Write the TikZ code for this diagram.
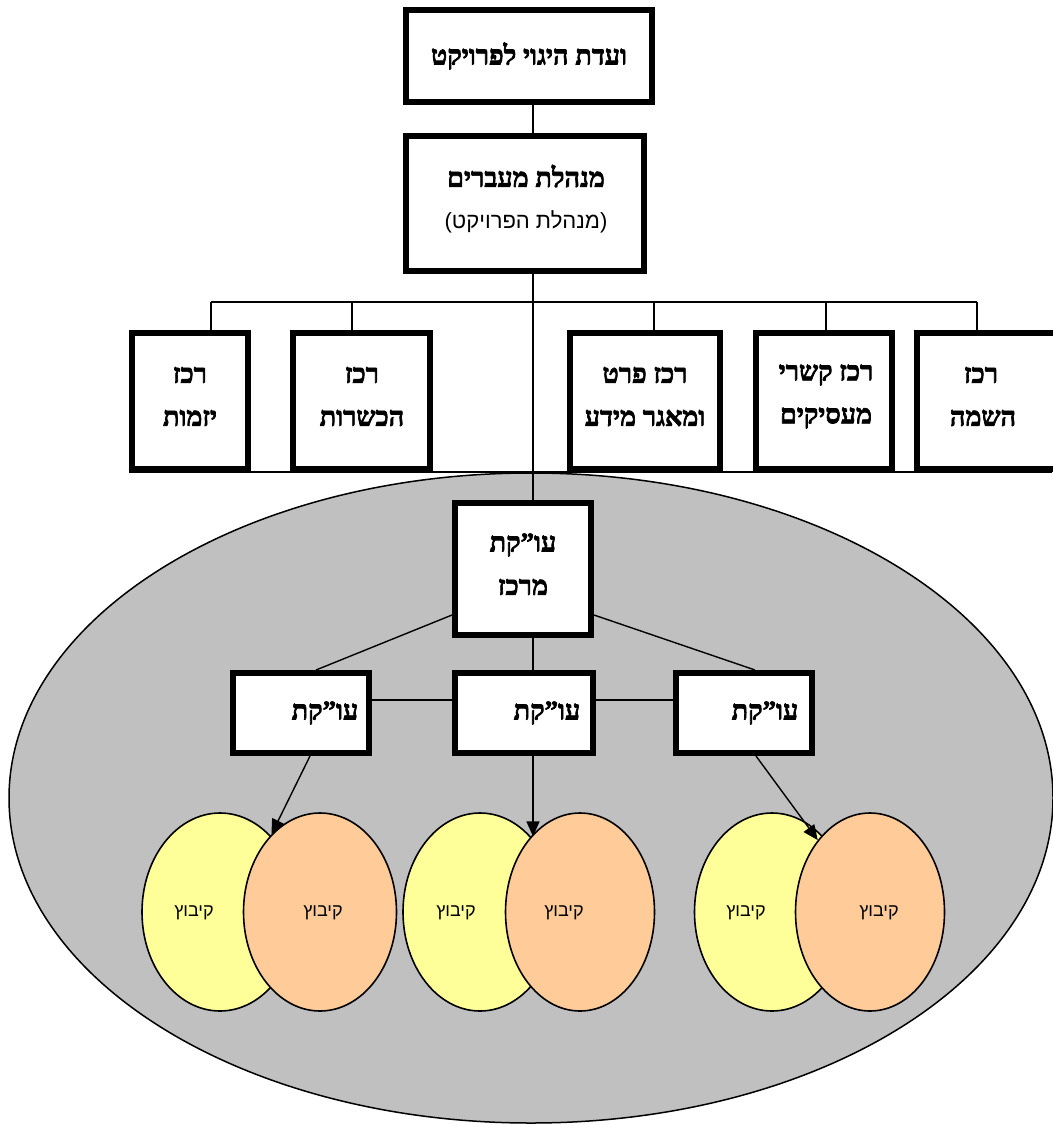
\documentclass[tikz,border=0pt]{standalone}
\usepackage{fontspec}
\setmainfont{Liberation Sans}
\newfontfamily\hebb[Script=Hebrew, BoldFont={Liberation Serif Bold}, BoldFeatures={FakeBold=2.5}]{Liberation Serif}
\newfontfamily\hebs[Script=Hebrew]{Liberation Sans}
\TeXXeTstate=1
\usetikzlibrary{arrows.meta,shapes.geometric}
\definecolor{ellgray}{HTML}{C0C0C0}
\definecolor{kyellow}{HTML}{FFFF99}
\definecolor{korange}{HTML}{FFCC99}
\newcommand{\hR}[1]{\beginR #1\endR}
\begin{document}
\begin{tikzpicture}[x=1pt,y=-1pt,
  box/.style={draw, line width=6pt, fill=white, rectangle, inner sep=0pt, align=center,
    font=\hebb\bfseries\fontsize{27}{31}\selectfont},
  btxt/.style={font=\hebb\bfseries\fontsize{27}{31}\selectfont, inner sep=0pt},
  rtxt/.style={font=\hebs\fontsize{22}{26}\selectfont, inner sep=0pt},
  ktxt/.style={font=\hebs\fontsize{18}{21}\selectfont, inner sep=0pt},
  conn/.style={line width=1.4pt},
  arr/.style={line width=1.4pt, -{Triangle[length=15pt,width=13pt]}},
  kib/.style={draw, ellipse, line width=1.6pt, inner sep=0pt, minimum width=153pt, minimum height=198pt}]
\useasboundingbox (0,0) rectangle (1052,1124);
\fill[white] (0,0) rectangle (1052,1124);

% big grey ellipse
\draw[fill=ellgray, line width=1.5pt] (531,798) ellipse [x radius=522, y radius=325];

\coordinate (spine) at (533,0);

% thin line along bottom of row boxes
\coordinate (rowL) at (129,472);
\coordinate (rowR) at (1052,472);
\draw[conn] (rowL) -- (rowR);

% top boxes
\node[box, minimum width=246pt, minimum height=92pt] (top) at (529,56) {\hR{ועדת היגוי לפרויקט}};
\node[box, minimum width=238pt, minimum height=135pt] (mgr) at (525,203.5) {};
\node[btxt] (mgrt1) at (526,176) {\hR{מנהלת מעברים}};
\node[rtxt] (mgrt2) at (526,222) {\hR{(מנהלת הפרויקט)}};

% row boxes
\node[box, minimum width=116pt, minimum height=136pt] (B1) at (190,401) {};
\node[box, minimum width=137pt, minimum height=136pt] (B2) at (361.5,401) {};
\node[box, minimum width=150pt, minimum height=136pt] (B3) at (645,401) {};
\node[box, minimum width=136pt, minimum height=136pt] (B4) at (824,401) {};
\node[box, minimum width=140pt, minimum height=136pt] (B5) at (987,401) {};

\node[btxt] (B1a) at (190,375) {\hR{רכז}};
\node[btxt] (B1b) at (190,418) {\hR{יזמות}};
\node[btxt] (B2a) at (362,375) {\hR{רכז}};
\node[btxt] (B2b) at (362,418) {\hR{הכשרות}};
\node[btxt] (B3a) at (645,375) {\hR{רכז פרט}};
\node[btxt] (B3b) at (645,418) {\hR{ומאגר מידע}};
\node[btxt] (B4a) at (826,375) {\hR{רכז קשרי}};
\node[btxt] (B4b) at (826,418) {\hR{מעסיקים}};
\node[btxt] (B5a) at (981,375) {\hR{רכז}};
\node[btxt] (B5b) at (983,418) {\hR{השמה}};

% connectors top
\draw[conn] (top.south -| spine) -- (mgr.north -| spine);
\coordinate (busL) at (211,302);
\coordinate (busR) at (977,302);
\coordinate (d2) at (352,302);
\coordinate (d3) at (654,302);
\coordinate (d4) at (826,302);
\draw[conn] (busL) -- (busR);
\draw[conn] (busL) -- (busL |- B1.north);
\draw[conn] (d2) -- (d2 |- B2.north);
\draw[conn] (d3) -- (d3 |- B3.north);
\draw[conn] (d4) -- (d4 |- B4.north);
\draw[conn] (busR) -- (busR |- B5.north);

% central boxes
\node[box, minimum width=136pt, minimum height=132pt] (C) at (523,569) {};
\node[btxt] (Ca) at (523,545) {\hR{עו”קת}};
\node[btxt] (Cb) at (523,587) {\hR{מרכז}};
\draw[conn] (mgr.south -| spine) -- (C.north -| spine);

\node[box, minimum width=136pt, minimum height=80pt] (S1) at (301,713) {};
\node[box, minimum width=138pt, minimum height=80pt] (S2) at (524,713) {};
\node[box, minimum width=136pt, minimum height=80pt] (S3) at (744,713) {};
\node[btxt] (S1t) at (325,713) {\hR{עו”קת}};
\node[btxt] (S2t) at (547,713) {\hR{עו”קת}};
\node[btxt] (S3t) at (765,713) {\hR{עו”קת}};

\draw[conn] ([yshift=23pt]C.south west) -- ([xshift=15pt]S1.north);
\draw[conn] ([yshift=23pt]C.south east) -- ([xshift=11pt]S3.north);
\draw[conn] (C.south -| spine) -- (S2.north -| spine);
\draw[conn] ([yshift=13pt]S1.east) -- ([yshift=13pt]S2.west);
\draw[conn] ([yshift=13pt]S2.east) -- ([yshift=13pt]S3.west);

% kibbutz ellipses
\node[kib, fill=kyellow, minimum width=156pt] (Y1) at (220,912) {};
\node[kib, fill=korange] (O1) at (320,912) {};
\node[kib, fill=kyellow, minimum width=154pt] (Y2) at (480,912) {};
\node[kib, fill=korange, minimum width=149pt] (O2) at (580,912) {};
\node[kib, fill=kyellow, minimum width=155pt] (Y3) at (772,912) {};
\node[kib, fill=korange, minimum width=149pt] (O3) at (870,912) {};

\node[ktxt] (Y1t) at (194,913) {\hR{קיבוץ}};
\node[ktxt] (O1t) at (323,913) {\hR{קיבוץ}};
\node[ktxt] (Y2t) at (456,913) {\hR{קיבוץ}};
\node[ktxt] (O2t) at (564,913) {\hR{קיבוץ}};
\node[ktxt] (Y3t) at (746,913) {\hR{קיבוץ}};
\node[ktxt] (O3t) at (879,913) {\hR{קיבוץ}};

% arrows
\draw[arr] ([xshift=9pt]S1.south) -- (O1.122);
\draw[arr] (S2.south -| spine) -- (O2.123 -| spine);
\draw[arr] ([xshift=12pt]S3.south) -- (O3.126);
\end{tikzpicture}
\end{document}
